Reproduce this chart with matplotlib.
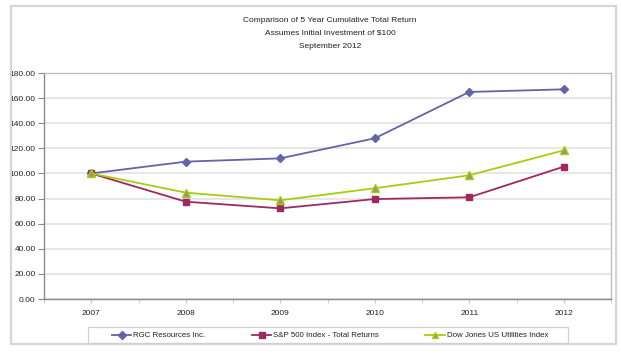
import matplotlib
matplotlib.use("Agg")
import matplotlib.pyplot as plt
from matplotlib.patches import Rectangle
from matplotlib.ticker import FormatStrFormatter, MultipleLocator

years = ["2007", "2008", "2009", "2010", "2011", "2012"]
rgc = [100.0, 109.4, 112.0, 128.0, 164.9, 167.0]
sp500 = [100.0, 77.5, 72.2, 79.6, 81.0, 105.4]
djus = [100.0, 84.7, 78.6, 88.2, 98.5, 118.4]

series_names = ["RGC Resources Inc.", "S&P 500 Index - Total Returns", "Dow Jones US Utilities Index"]
title_lines = ["Comparison of 5 Year Cumulative Total Return",
               "Assumes Initial Investment of $100",
               "September 2012"]

plt.rcParams['font.family'] = ['Liberation Sans', 'DejaVu Sans']

fig = plt.figure(figsize=(6.21, 3.56), dpi=100)
W, H = 621, 356

# outer frame
fig.patches.append(Rectangle((11 / W, 1 - 344 / H), (616 - 11) / W, (344 - 6) / H,
                             transform=fig.transFigure, fill=False,
                             edgecolor="#D6D6D6", linewidth=1.6))
# legend frame
fig.patches.append(Rectangle((88 / W, 1 - 343 / H), (568 - 88) / W, (343 - 327) / H,
                             transform=fig.transFigure, fill=False,
                             edgecolor="#D0D0D0", linewidth=0.9))

ax = fig.add_axes([44 / W, 1 - 299 / H, (611 - 44) / W, (299 - 73) / H])
x = list(range(len(years)))

ax.plot(x, rgc, color="#6464A6", linewidth=1.3, marker="D", markersize=4.5,
        markerfacecolor="#6464A6", markeredgecolor="#6464A6", label=series_names[0], zorder=3)
ax.plot(x, sp500, color="#A02860", linewidth=1.3, marker="s", markersize=5,
        markerfacecolor="#A02860", markeredgecolor="#A02860", label=series_names[1], zorder=3)
ax.plot(x, djus, color="#A8CC10", linewidth=1.3, marker="^", markersize=6,
        markerfacecolor="#8C9C70", markeredgecolor="#A8CC10", markeredgewidth=1.0,
        label=series_names[2], zorder=4)

ax.set_xlim(-0.5, len(years) - 0.5)
ax.set_ylim(0, 180)
ax.yaxis.set_major_locator(MultipleLocator(20))
ax.yaxis.set_major_formatter(FormatStrFormatter("%.2f"))
ax.set_xticks(x)
ax.set_xticklabels(years)
ax.set_xticks([i - 0.5 for i in range(len(years) + 1)], minor=True)
ax.grid(axis="y", color="#E3E3E3", linewidth=1.2, zorder=0)
ax.set_axisbelow(True)

for s in ["top", "right"]:
    ax.spines[s].set_color("#BDBDBD")
    ax.spines[s].set_linewidth(1.0)
for s in ["left", "bottom"]:
    ax.spines[s].set_color("#8A8A8A")
    ax.spines[s].set_linewidth(1.0)

ax.tick_params(axis="y", labelsize=6, length=4, color="#8A8A8A", pad=2, labelcolor="#222222")
ax.tick_params(axis="x", which="major", labelsize=6, length=3, color="#C8C8C8", pad=5, labelcolor="#222222")
ax.tick_params(axis="x", which="minor", length=3, color="#C8C8C8")

for i, t in enumerate(title_lines):
    fig.text(330 / W, 1 - (20 + 13 * i) / H, t, ha="center", va="center", fontsize=6, color="#222222")

leg = fig.legend(loc="center", bbox_to_anchor=(330 / W, 1 - 335.5 / H), ncol=3, fontsize=5.7,
                 frameon=False, handlelength=2.5, handletextpad=0.25, columnspacing=5.8,
                 borderpad=0.0, markerscale=0.8)
for txt in leg.get_texts():
    txt.set_color("#222222")

fig.savefig("out.png", dpi=100)
